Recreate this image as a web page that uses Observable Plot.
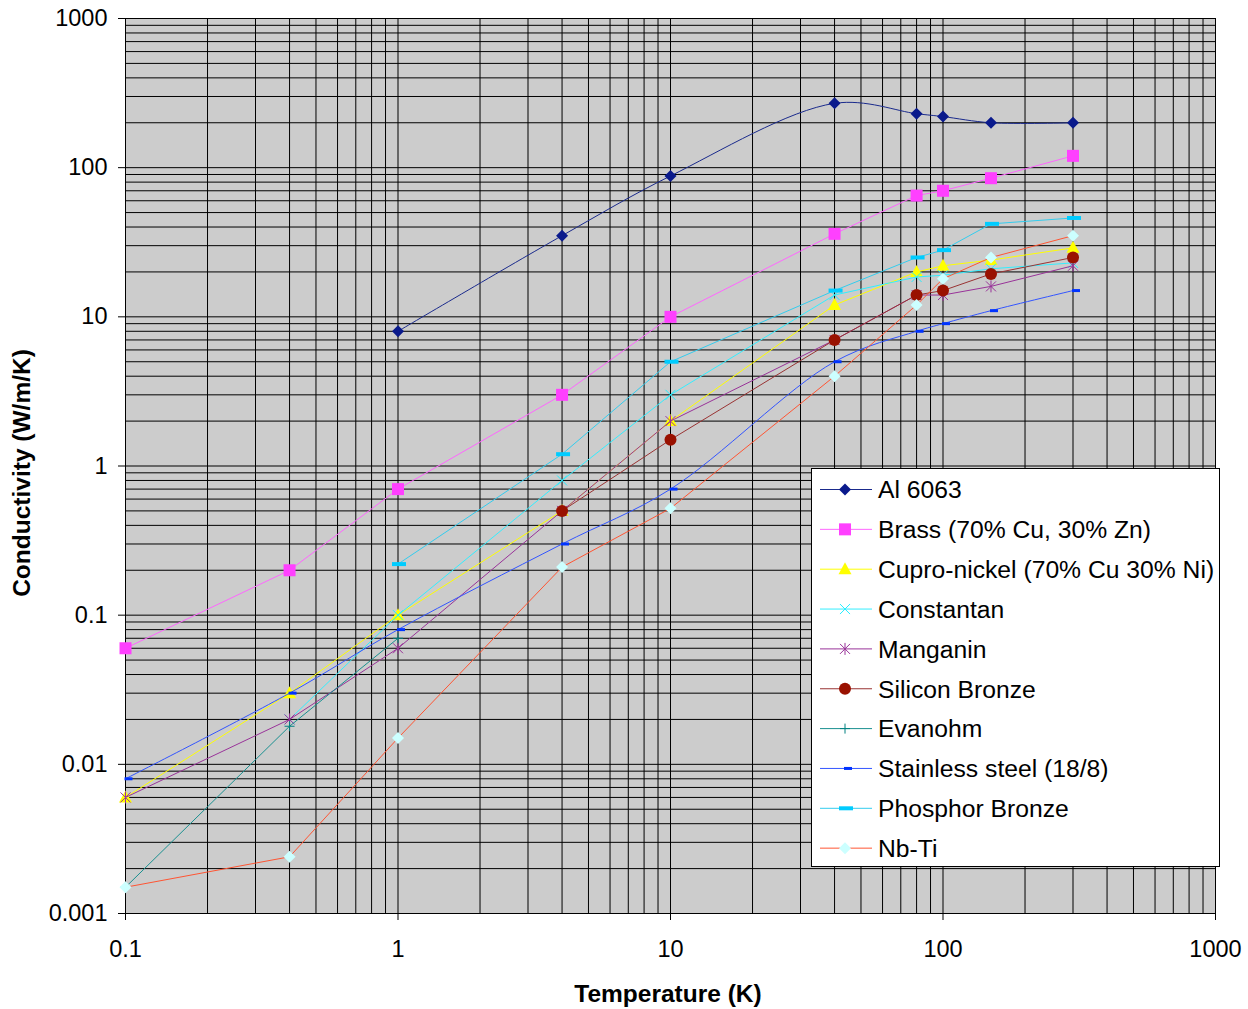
<!DOCTYPE html>
<html>
<head>
<meta charset="utf-8">
<script src="https://cdn.jsdelivr.net/npm/d3@7"></script>
<script src="https://cdn.jsdelivr.net/npm/@observablehq/plot@0.6"></script>
<style>
  html, body { margin: 0; padding: 0; background: #ffffff; }
  #chart { width: 1248px; height: 1009px; }
</style>
</head>
<body>
<div id="chart"></div>
<script>
// ---- Data ----
const temps = [0.1, 0.4, 1, 4, 10, 40, 80, 100, 150, 300];

const seriesNames = [
  "Al 6063",
  "Brass (70% Cu, 30% Zn)",
  "Cupro-nickel (70% Cu 30% Ni)",
  "Constantan",
  "Manganin",
  "Silicon Bronze",
  "Evanohm",
  "Stainless steel (18/8)",
  "Phosphor Bronze",
  "Nb-Ti"
];

const al6063      = [null, null, 8, 35, 88, 270, 230, 220, 200, 200];
const brass       = [0.06, 0.2, 0.7, 3, 10, 36, 65, 70, 85, 120];
const cuproNickel = [0.006, 0.03, 0.1, 0.5, 2, 12, 20, 22, 24, 29];
const constantan  = [null, 0.02, 0.1, 0.8, 3, 14, 18.5, 19, 21, 23];
const manganin    = [0.006, 0.02, 0.06, 0.5, 2, 7, 14, 14, 16, 22];
const siliconBronze = [null, null, null, 0.5, 1.5, 7, 14, 15, 19.4, 25];
const evanohm     = [0.0015, 0.018, 0.07, null, null, null, null, null, null, null];
const stainless   = [0.008, 0.03, 0.08, 0.3, 0.7, 5, 8, 9, 11, 15];
const phosphorBronze = [null, null, 0.22, 1.2, 5, 15, 25, 28, 42, 46];
const nbTi        = [0.0015, 0.0024, 0.015, 0.21, 0.52, 4, 12, 18, 25, 35];

const seriesValues = [al6063, brass, cuproNickel, constantan, manganin,
  siliconBronze, evanohm, stainless, phosphorBronze, nbTi];

const xTickValues = [0.1, 1, 10, 100, 1000];
const xTickLabels = ["0.1", "1", "10", "100", "1000"];
const yTickValues = [0.001, 0.01, 0.1, 1, 10, 100, 1000];
const yTickLabels = ["0.001", "0.01", "0.1", "1", "10", "100", "1000"];
const xTitle = "Temperature (K)";
const yTitle = "Conductivity (W/m/K)";

// ---- Styles ----
const lineColors   = ["#1a2a8c", "#ff66ff", "#ffff00", "#33eeff", "#993399", "#993333", "#1a9090", "#3355ff", "#33ccee", "#ff5533"];
const markerColors = ["#0a1a8c", "#ff40ff", "#ffff00", "#22eeff", "#993399", "#991100", "#008080", "#0033ff", "#00ccff", "#ccffff"];
const curves = ["catmull-rom", "linear", "linear", "linear", "linear", "linear", "linear", "catmull-rom", "linear", "linear"];

const sym = (fn) => ({ draw(ctx) { fn(ctx); } });
const symbols = [
  sym(c => { c.moveTo(0, -6); c.lineTo(6, 0); c.lineTo(0, 6); c.lineTo(-6, 0); c.closePath(); }), // diamond
  sym(c => { c.rect(-6, -6, 12, 12); }),                                                          // square
  sym(c => { c.moveTo(0, -7); c.lineTo(6.5, 5); c.lineTo(-6.5, 5); c.closePath(); }),             // triangle
  sym(c => { c.moveTo(-5, -5); c.lineTo(5, 5); c.moveTo(5, -5); c.lineTo(-5, 5); }),              // x
  sym(c => { c.moveTo(-5, -5); c.lineTo(5, 5); c.moveTo(5, -5); c.lineTo(-5, 5); c.moveTo(0, -6); c.lineTo(0, 6); }), // asterisk
  sym(c => { c.moveTo(6, 0); c.arc(0, 0, 6, 0, 2 * Math.PI); c.closePath(); }),                   // circle
  sym(c => { c.moveTo(-5, 0); c.lineTo(5, 0); c.moveTo(0, -5); c.lineTo(0, 5); }),                // plus
  sym(c => { c.rect(-1, -1.5, 8, 3); }),                                                          // short bar
  sym(c => { c.rect(-6, -2, 14, 4); }),                                                           // long bar
  sym(c => { c.moveTo(0, -6); c.lineTo(6, 0); c.lineTo(0, 6); c.lineTo(-6, 0); c.closePath(); })  // diamond
];
const stroked = [false, false, false, true, true, false, true, false, false, false];

// ---- Build table ----
const rows = [];
seriesNames.forEach((name, si) => {
  seriesValues[si].forEach((v, ti) => {
    if (v != null) rows.push({ series: name, T: temps[ti], k: v });
  });
});

const minorTicks = (lo, hi) => {
  const out = [];
  for (let e = lo; e < hi; e++) for (let m = 1; m < 10; m++) out.push(+(m * Math.pow(10, e)).toPrecision(3));
  out.push(Math.pow(10, hi));
  return out;
};
const xGrid = minorTicks(-1, 3);
const yGrid = minorTicks(-3, 3);

const font = "Liberation Sans, Arial, Helvetica, sans-serif";

const seriesMarks = [];
seriesNames.forEach((name, si) => {
  const d = rows.filter(r => r.series === name);
  seriesMarks.push(Plot.line(d, { x: "T", y: "k", stroke: lineColors[si], strokeWidth: 1, curve: curves[si] }));
  seriesMarks.push(Plot.dot(d, {
    x: "T", y: "k", symbol: symbols[si], r: 5,
    fill: stroked[si] ? "none" : markerColors[si],
    stroke: stroked[si] ? markerColors[si] : "none",
    strokeWidth: 1
  }));
});

const plot = Plot.plot({
  width: 1248,
  height: 1009,
  marginLeft: 125,
  marginRight: 33,
  marginTop: 18,
  marginBottom: 96,
  style: { fontFamily: font, fontSize: "23.5px", background: "#ffffff", color: "#000" },
  x: { type: "log", domain: [0.1, 1000] },
  y: { type: "log", domain: [0.001, 1000] },
  marks: [
    Plot.frame({ fill: "#cccccc", stroke: "none" }),
    Plot.gridX(xGrid, { stroke: "#000", strokeOpacity: 1, strokeWidth: 1 }),
    Plot.gridY(yGrid, { stroke: "#000", strokeOpacity: 1, strokeWidth: 1 }),
    Plot.axisX(xTickValues, {
      tickSize: 7, tickPadding: 20, label: null, fontSize: 23.5,
      tickFormat: d => xTickLabels[xTickValues.indexOf(d)]
    }),
    Plot.axisY(yTickValues, {
      tickSize: 7, tickPadding: 11, label: null, fontSize: 23.5,
      tickFormat: d => yTickLabels[yTickValues.indexOf(d)]
    }),
    ...seriesMarks
  ]
});

document.getElementById("chart").appendChild(plot);

const svg = d3.select(plot);

// ---- Axis titles ----
svg.append("text")
  .attr("x", 668).attr("y", 993).attr("dy", "0.36em")
  .attr("text-anchor", "middle").attr("font-family", font)
  .attr("font-size", 24.5).attr("font-weight", "bold").attr("fill", "#000")
  .text(xTitle);
svg.append("text")
  .attr("transform", "translate(21,473) rotate(-90)").attr("dy", "0.36em")
  .attr("text-anchor", "middle").attr("font-family", font)
  .attr("font-size", 24.5).attr("font-weight", "bold").attr("fill", "#000")
  .text(yTitle);

// ---- Legend (inside plot area) ----
const lg = svg.append("g").attr("font-family", font).attr("font-size", 24.7).attr("text-anchor", "start");
lg.append("rect")
  .attr("x", 811.5).attr("y", 468.5).attr("width", 408).attr("height", 398)
  .attr("fill", "#ffffff").attr("stroke", "#000").attr("stroke-width", 1);
seriesNames.forEach((name, i) => {
  const cy = 489.5 + 39.85 * i;
  lg.append("line").attr("x1", 820).attr("x2", 872).attr("y1", cy).attr("y2", cy)
    .attr("stroke", lineColors[i]).attr("stroke-width", 1);
  const p = d3.path();
  symbols[i].draw(p);
  lg.append("path").attr("d", p.toString()).attr("transform", `translate(845,${cy})`)
    .attr("fill", stroked[i] ? "none" : markerColors[i])
    .attr("stroke", stroked[i] ? markerColors[i] : "none");
  lg.append("text").attr("x", 878).attr("y", cy).attr("dy", "0.36em")
    .attr("text-anchor", "start").attr("fill", "#000").text(name);
});
</script>
</body>
</html>
